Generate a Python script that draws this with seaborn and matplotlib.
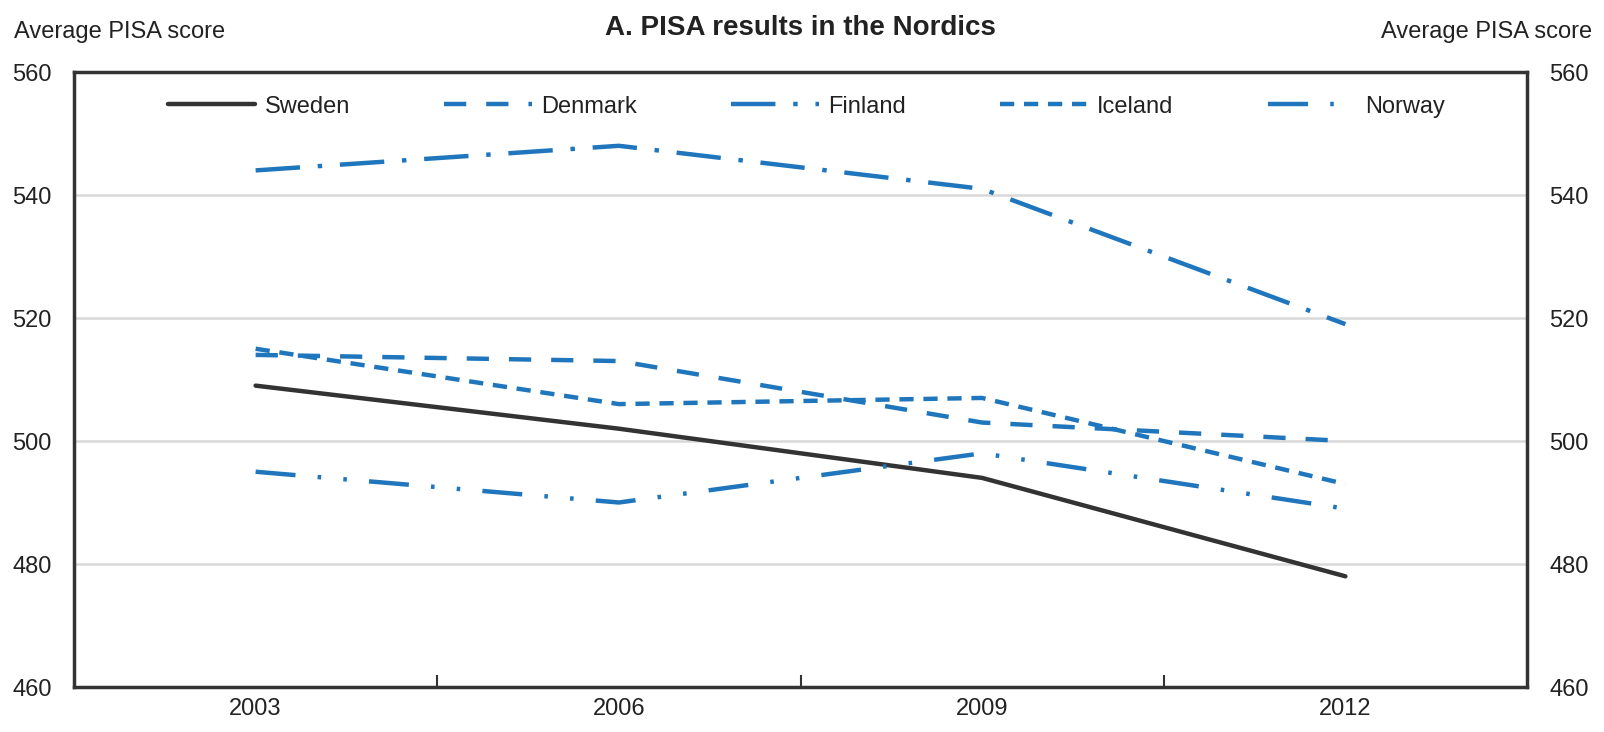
import matplotlib
matplotlib.use("Agg")
import matplotlib.pyplot as plt
import seaborn as sns
import pandas as pd

years = ["2003", "2006", "2009", "2012"]
sweden = [509, 502, 494, 478]
denmark = [514, 513, 503, 500]
finland = [544, 548, 541, 519]
iceland = [515, 506, 507, 493]
norway = [495, 490, 498, 489]
countries = ["Sweden", "Denmark", "Finland", "Iceland", "Norway"]
yticks = [460, 480, 500, 520, 540, 560]

sns.set_style("white")
plt.rcParams['font.family'] = ['Liberation Sans Narrow', 'Liberation Sans', 'DejaVu Sans']

rows = []
for name, vals in zip(countries, [sweden, denmark, finland, iceland, norway]):
    for i, v in enumerate(vals):
        rows.append({"idx": i, "score": v, "country": name})
df = pd.DataFrame(rows)

blue = "#1f76bd"
palette = {"Sweden": "#333333", "Denmark": blue, "Finland": blue, "Iceland": blue, "Norway": blue}
dashes = {"Sweden": "", "Denmark": (5, 4.5), "Finland": (10, 4, 1, 4),
          "Iceland": (3.2, 2.2), "Norway": (9, 5, 0.8, 5, 0.8, 5)}

fig = plt.figure(figsize=(16.04, 7.32), dpi=100)
ax = fig.add_axes([74/1604, 1-687/732, (1527-74)/1604, (687-72)/732])

sns.lineplot(data=df, x="idx", y="score", hue="country", style="country",
             palette=palette, dashes=dashes, linewidth=3.2, ax=ax, legend=True)

fs = 17
ax.set_xlim(-0.5, 3.5)
ax.set_ylim(460, 560)
ax.set_yticks(yticks)
ax.set_yticklabels([str(t) for t in yticks], fontsize=fs, color="#222222")
ax.set_xticks(range(len(years)))
ax.set_xticklabels(years, fontsize=fs, color="#222222")
ax.set_xticks([0.5, 1.5, 2.5], minor=True)
ax.tick_params(axis="x", which="major", length=0, pad=8)
ax.tick_params(axis="x", which="minor", bottom=True, direction="in", length=9, width=1.5, color="#333333")
ax.tick_params(axis="y", length=0, pad=16)
ax.set_xlabel("")
ax.set_ylabel("")
for t in [480, 500, 520, 540]:
    ax.axhline(t, color="#d9d9d9", lw=1.8, zorder=0)
for s in ax.spines.values():
    s.set_color("#333333")
    s.set_linewidth(2.5)

ax2 = ax.twinx()
ax2.set_ylim(460, 560)
ax2.set_yticks(yticks)
ax2.set_yticklabels([str(t) for t in yticks], fontsize=fs, color="#222222")
ax2.tick_params(axis="y", length=0, pad=16)
for s in ax2.spines.values():
    s.set_visible(False)

h, l = ax.get_legend_handles_labels()
ax.legend(h, l, loc="upper center", bbox_to_anchor=(0.504, 1.0), ncol=5, frameon=False,
          fontsize=fs, handlelength=3.7, handletextpad=0.4, columnspacing=4.0,
          borderaxespad=0.6, labelcolor="#222222")

fig.text(14/1604, 1-32/732, "Average PISA score", fontsize=fs, color="#222222", va="center", ha="left")
fig.text(1592/1604, 1-32/732, "Average PISA score", fontsize=fs, color="#222222", va="center", ha="right")
fig.text(0.5*(74+1527)/1604, 1-28/732, "A. PISA results in the Nordics", fontsize=20,
         fontweight="bold", color="#222222", va="center", ha="center")

fig.savefig("out.png", dpi=100)
